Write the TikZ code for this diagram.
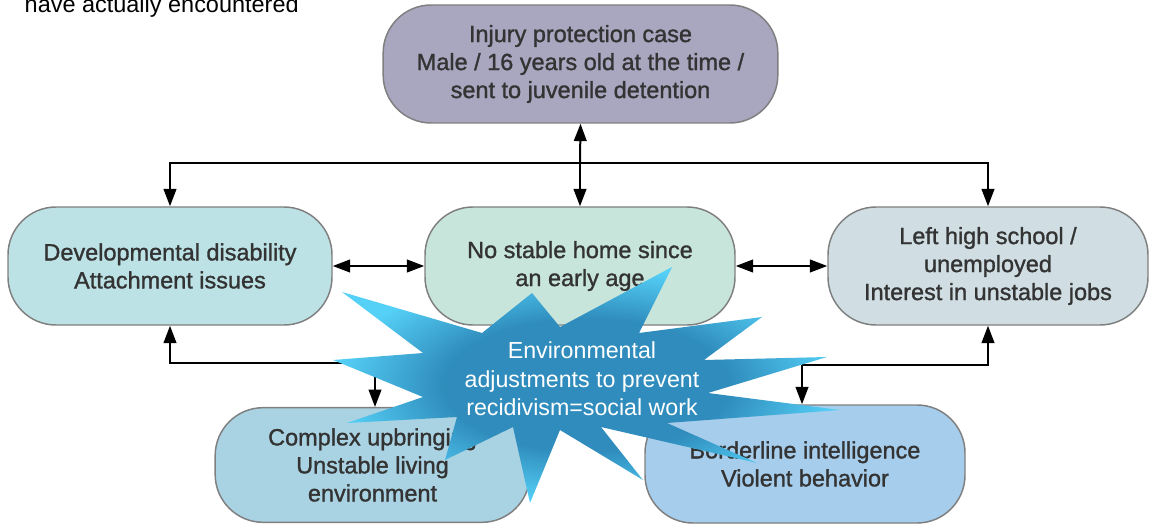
\documentclass[tikz,border=0pt]{standalone}
\usepackage{fontspec}
\setmainfont{Liberation Sans}
\newfontfamily\boxfont{Liberation Sans}[FakeBold=1.2]
\usetikzlibrary{arrows.meta}
\definecolor{injfill}{HTML}{A9A6BF}
\definecolor{devfill}{HTML}{BDE2E6}
\definecolor{homefill}{HTML}{C8E5DB}
\definecolor{jobfill}{HTML}{D0DEE3}
\definecolor{upfill}{HTML}{A9D3E3}
\definecolor{iqfill}{HTML}{A6CDEB}
\definecolor{boxline}{HTML}{7F7F7F}
\definecolor{stardark}{HTML}{2F8CBC}
\definecolor{starlight}{HTML}{55D0F6}
\pgfdeclareradialshading{starglow}{\pgfpoint{0bp}{0bp}}{color(0bp)=(stardark);color(14bp)=(stardark);color(25bp)=(starlight);color(50bp)=(starlight)}
\tikzset{
  case/.style={draw=boxline, line width=1.1pt, rounded corners=36pt, minimum height=88.5pt,
    inner sep=0pt, align=center, text=black!80, font=\boxfont\fontsize{17.6}{21}\selectfont},
  link/.style={line width=1.5pt, -{Triangle[length=13pt,width=9.5pt]}},
  both/.style={line width=1.5pt, {Triangle[length=13pt,width=9.5pt]}-{Triangle[length=13pt,width=9.5pt]}}
}
\begin{document}
\begin{tikzpicture}[x=0.75pt,y=-0.75pt]
\useasboundingbox (0,0) rectangle (1150,524);
\clip (0,0) rectangle (1150,524);
\node[anchor=base west, font=\fontsize{17.6}{21}\selectfont] (note) at (20,13) {have actually encountered};
\node[case, fill=injfill, minimum width=296pt] (inj) at (580.5,64) {Injury protection case\\Male / 16 years old at the time /\\sent to juvenile detention};
\node[case, fill=devfill, minimum width=243pt] (dev) at (170,266) {Developmental disability\\Attachment issues};
\node[case, fill=homefill, minimum width=232.5pt] (home) at (580,266) {No stable home since\\an early age};
\node[case, fill=jobfill, minimum width=240pt] (job) at (988,266) {Left high school /\\unemployed\\Interest in unstable jobs};
\node[case, fill=upfill, minimum width=236pt, minimum height=86pt] (upb) at (372.5,465) {Complex upbringing\\Unstable living\\environment};
\node[case, fill=iqfill, minimum width=240pt] (iq) at (805,464) {Borderline intelligence\\Violent behavior};
\coordinate (top) at (580,163);
\coordinate (lowl) at (375,363);
\coordinate (lowr) at (802,365);
\draw[link] (top) -- (inj.south);
\draw[link] (top) -- (home.north);
\draw[link] (top) -| (dev.north);
\draw[link] (top) -| (job.north);
\draw[both] (dev.east) -- (home.west);
\draw[both] (home.east) -- (job.west);
\draw[link] (lowl) -| (dev.south);
\draw[link] (lowl) -- (lowl |- upb.north);
\draw[link] (lowr) -| (job.south);
\draw[link] (lowr) -- (lowr |- iq.north);
\shade[shading=starglow] (342,292) -- (482,333) -- (532,293) -- (560,327) -- (672,267) -- (639,333)
  -- (762,317) -- (704,360) -- (827,357) -- (708,393) -- (840,410) -- (667,423) -- (757,463)
  -- (601,427) -- (643,480) -- (560,430) -- (530,503) -- (513,427) -- (445,460) -- (457,417)
  -- (347,423) -- (423,397) -- (333,360) -- (423,353) -- cycle;
\node[align=center, text=white, font=\fontsize{17.4}{21.3}\selectfont] (fix) at (582,379) {Environmental\\adjustments to prevent\\recidivism=social work};
\end{tikzpicture}
\end{document}
